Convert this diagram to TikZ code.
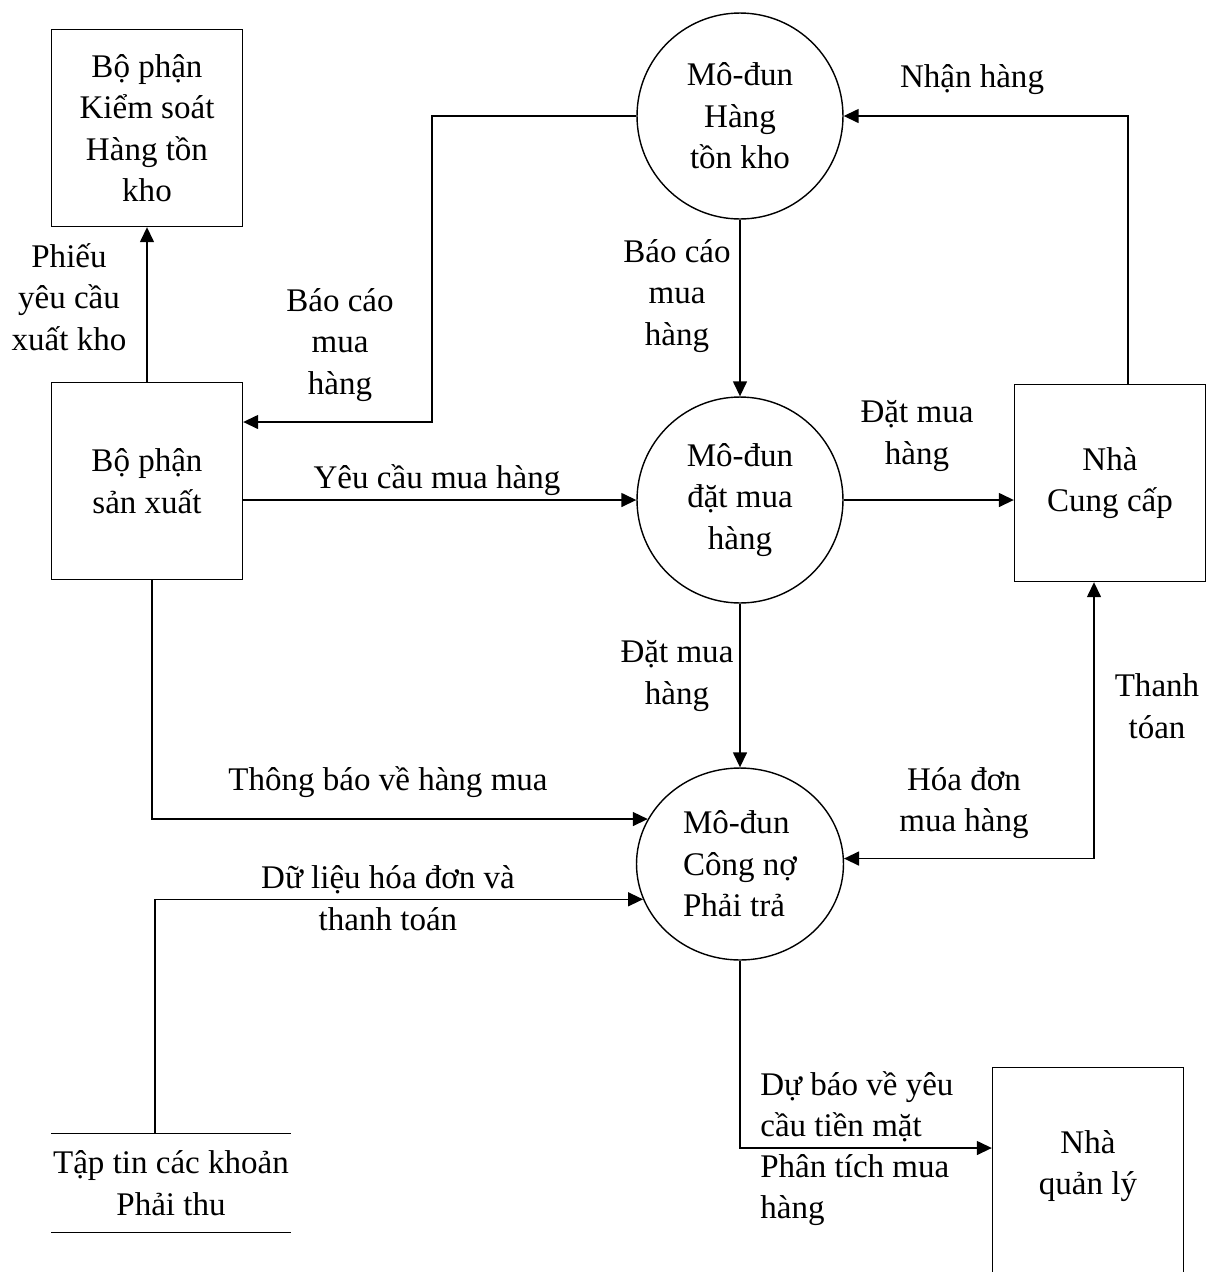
\documentclass[tikz,border=0pt]{standalone}
\usepackage{fontspec}
\setmainfont{Liberation Serif}
\usetikzlibrary{arrows.meta, shapes.geometric, positioning}
\newcommand{\diagfont}{\fontsize{18.8pt}{23.6pt}\selectfont}
\tikzset{
  entity/.style={
    rectangle, draw=black, line width=0.8pt,
    minimum width=3.82cm, minimum height=3.94cm,
    align=center, font=\diagfont
  },
  process/.style={
    circle, draw=black, line width=0.8pt,
    minimum size=4.12cm, align=center, font=\diagfont
  },
  procell/.style={
    ellipse, draw=black, line width=0.8pt,
    minimum width=4.14cm, minimum height=3.84cm,
    align=left, font=\diagfont
  },
  store/.style={
    rectangle, inner sep=0pt, minimum width=4.78cm, minimum height=1.96cm,
    align=center, font=\diagfont
  },
  lbl/.style={inner sep=0pt, align=center, font=\diagfont},
  plainline/.style={line width=0.8pt, draw=black},
  dataflow/.style={-{Triangle[length=0.3cm, width=0.28cm]}, line width=0.8pt, draw=black},
  dualflow/.style={{Triangle[length=0.3cm, width=0.28cm]}-{Triangle[length=0.3cm, width=0.28cm]}, line width=0.8pt, draw=black}
}

\begin{document}
\begin{tikzpicture}[x=0.02cm, y=-0.02cm]
  \path[use as bounding box, fill=white] (0,0) rectangle (1218,1272);

  % entities and processes
  \node[entity] (kskho) at (147,128) {Bộ phận\\Kiểm soát\\Hàng tồn\\kho};
  \node[entity] (sx) at (147,481) {Bộ phận\\sản xuất};
  \node[entity] (ncc) at (1110,483) {Nhà\\Cung cấp};
  \node[entity, minimum height=5cm, anchor=north] (nql) at (1088,1067) {};
  \node[lbl] (nqllabel) at (1088,1166) {Nhà\\quản lý};

  \node[process] (htk) at (740,116) {Mô-đun\\Hàng\\tồn kho};
  \node[process] (dmh) at (740,500) {Mô-đun\\đặt mua\\hàng};
  \node[procell] (cnpt) at (740,864) {Mô-đun\\Công nợ\\Phải trả};

  \node[store] (ds) at (171,1183) {Tập tin các khoản\\Phải thu};
  \draw[plainline] (ds.north west) -- (ds.north east)
                   (ds.south west) -- (ds.south east);

  % bends
  \coordinate (bend1) at (432,422);
  \coordinate (bend2) at (1128,118);
  \coordinate (bend3) at (152,820);
  \coordinate (bend4) at (155,900);
  \coordinate (bend5) at (1094,858);
  \coordinate (bend6) at (739,1148);

  % flows
  \draw[dataflow] (sx.north) -- (kskho.south);
  \draw[dataflow] (htk.west) -| (bend1) -- (sx.east |- bend1);
  \draw[dataflow] (htk.south) -- (dmh.north);
  \draw[dataflow] (sx.east |- dmh.west) -- (dmh.west);
  \draw[dataflow] (dmh.east) -- (ncc.west |- dmh.east);
  \draw[dataflow] (ncc.north -| bend2) |- (htk.east);
  \draw[dataflow] (dmh.south) -- (cnpt.north);
  \draw[dataflow] (sx.south -| bend3) |- (cnpt.154);
  \draw[dataflow] (ds.north -| bend4) |- (cnpt.200);
  \draw[dualflow] (cnpt.3) -| (ncc.south -| bend5);
  \draw[dataflow] (cnpt.south) |- (nql.west |- bend6);

  % labels
  \node[lbl] (lphieu) at (69,297) {Phiếu\\yêu cầu\\xuất kho};
  \node[lbl] (lbaocao1) at (340,345) {Báo cáo\\mua\\hàng};
  \node[lbl] (lbaocao2) at (677,296) {Báo cáo\\mua\\hàng};
  \node[lbl] (lyeucau) at (437,480) {Yêu cầu mua hàng};
  \node[lbl] (ldat1) at (917,436) {Đặt mua\\hàng};
  \node[lbl] (lnhan) at (972,80) {Nhận hàng};
  \node[lbl] (ldat2) at (677,676) {Đặt mua\\hàng};
  \node[lbl] (lthanh) at (1157,706) {Thanh\\tóan};
  \node[lbl] (lhoadon) at (964,803) {Hóa đơn\\mua hàng};
  \node[lbl] (lthongbao) at (388,782) {Thông báo về hàng mua};
  \node[lbl] (ldulieu) at (388,898) {Dữ liệu hóa đơn và\\thanh toán};
  \node[lbl, align=left, anchor=west] (ldubao) at (760,1107) {Dự báo về yêu\\cầu tiền mặt};
  \node[lbl, align=left, anchor=west] (lphantich) at (760,1190) {Phân tích mua\\hàng};
\end{tikzpicture}
\end{document}
